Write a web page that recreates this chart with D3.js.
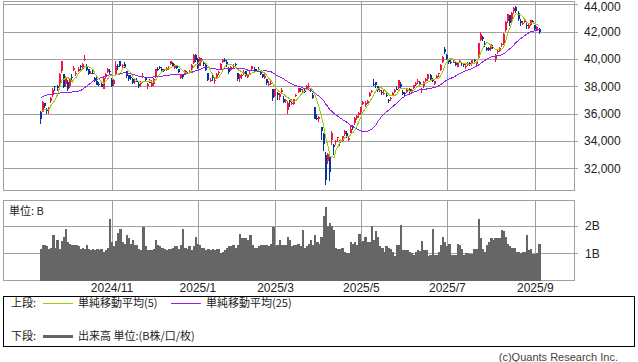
<!DOCTYPE html>
<html>
<head>
<meta charset="utf-8">
<script src="https://cdn.jsdelivr.net/npm/d3@7/dist/d3.min.js"></script>
<style>
  body { margin: 0; background: #fff; }
  svg { display: block; }
</style>
</head>
<body>
<svg id="chart" width="638" height="362"></svg>
<script>
// closes for the 24 sessions before the first drawn day (only used for the moving averages)
const preCloses = [35089, 34831, 35025, 36232, 36442, 36726, 38062, 37388, 38063, 37951, 38211, 38364,
  38110, 38288, 38371, 38362, 38647, 38700, 38686, 37047, 36657, 36391, 36215, 36159];

const opens = [36087,36120,36750,36230,36260,36900,37400,38000,38000,38150,
  39140,38900,38150,38280,38000,38700,39170,38900,39150,39450,
  39300,39960,39500,39260,38900,39000,38600,38400,38200,38200,
  37800,38650,39050,39100,38450,38200,38900,39500,39850,39500,
  39600,39100,38800,38700,38500,38300,38400,38200,38150,38700,
  38600,38000,38350,38000,38200,38650,39300,39400,39300,39200,
  39200,39300,39600,39700,39350,39500,39300,38600,38800,38900,
  39050,39100,39200,39700,40300,40000,39500,39900,39800,39600,
  39000,38400,38800,38400,38600,39000,39300,39800,39950,39800,
  39300,39200,39500,39600,39000,38600,38800,38900,39100,38700,
  38900,39300,39300,39200,39300,39100,38900,38600,38500,38100,
  38200,37800,37300,37500,37200,37600,37100,37000,36300,36900,
  36700,36700,37300,37600,37800,37600,37700,37800,38000,37800,
  37400,36500,35700,35600,35000,34500,33000,32500,32800,34100,
  33700,33900,34200,33900,34000,34500,34600,34100,34600,35100,
  35300,35700,35900,36100,36700,36600,36800,37300,37600,38200,
  38300,38000,37700,37600,37500,37400,37000,37100,37400,37600,
  37800,37900,38200,37600,37500,37600,37800,37600,37900,38100,
  38300,38300,37700,38000,38400,38500,38800,38500,38200,38600,
  38900,39200,39800,40700,40300,39900,39800,39800,39700,39400,
  39800,39700,39600,39400,39600,39700,39600,39900,39600,40100,
  41400,41600,41200,40800,40800,40700,40900,40000,40500,40600,
  41000,41100,42100,42800,43200,42700,43500,43800,43400,42800,
  42600,42700,42500,42300,42500,42800,42500,42200,42200];

const highs = [36202,36940,36780,36440,36500,37210,37860,38010,38100,38940,
  39830,38900,38730,38450,38600,38900,39500,39150,39390,39530,
  39700,40260,39600,39290,39120,39200,38700,38700,38280,38250,
  38700,38950,39370,39250,38600,38530,39880,39650,39880,39600,
  39800,39150,38850,38800,38600,38600,38580,38350,38400,38960,
  38700,38250,38500,38450,38600,39250,39400,39500,39400,39300,
  39400,39450,39870,39750,39600,39550,39300,38900,38800,39200,
  39100,39200,39600,40400,40350,40100,40150,40050,39800,39700,
  39000,38600,38800,38600,38950,39100,39700,40000,40100,39900,
  39400,39500,39600,39700,39000,38900,38900,39200,39150,38900,
  39100,39500,39400,39300,39400,39100,38900,38900,38500,38400,
  38400,37800,37800,37600,37500,37900,37300,37100,36900,37000,
  37100,37100,37450,37900,37900,37800,37900,38100,38220,37900,
  37500,36500,36000,35800,35000,34600,33200,33100,32800,34700,
  33800,34100,34300,34100,34400,34800,34700,34300,35100,35150,
  35750,35900,36100,36500,36900,36900,37000,37600,37700,38500,
  38300,38000,37900,37700,37700,37600,37100,37200,37600,37800,
  38000,38450,38300,37700,37600,37900,37900,37800,38100,38300,
  38500,38400,37900,38400,38600,38900,38900,38600,38400,38800,
  39000,39600,40200,40850,40400,40000,39900,39900,39800,39700,
  39900,39800,39700,39600,39800,39800,39900,40000,39800,41200,
  42000,41700,41300,40900,40900,41100,41000,40400,40700,40900,
  41200,41900,42800,43300,43200,43450,43800,43880,43500,42900,
  42800,42900,42600,42600,42850,42850,42500,42400,42300];

const lows = [35247,36090,36420,36000,35970,36800,37200,37660,37620,38050,
  38970,37860,37950,37650,37900,38400,39100,38750,39060,39200,
  39230,39850,39120,38850,38880,38900,38350,38060,38050,37920,
  37800,38550,38990,38800,37960,38050,38800,39200,39400,39300,
  39350,38600,38400,38450,38150,38150,38280,37900,37960,38600,
  38300,37800,38250,37950,38050,38600,39150,39250,39000,39050,
  39150,39200,39550,39400,39300,39300,38950,38500,38500,38800,
  38900,39000,39150,39650,39800,39300,39450,39800,39500,39100,
  38400,38300,38400,38200,38550,38800,39200,39700,39800,39400,
  38900,39150,39300,39400,38400,38300,38500,38800,38700,38600,
  38800,39200,39100,39100,39100,38800,38600,38500,38100,38000,
  38100,36900,37200,37000,37000,37500,36800,36800,35950,36500,
  36600,36600,37200,37500,37600,37500,37500,37700,37900,37600,
  37100,35600,35500,35400,34100,33300,30790,32300,31100,33700,
  33000,33700,33900,33600,33900,34400,34200,34000,34600,34800,
  35200,35500,35700,35900,36600,36500,36700,37200,37500,38000,
  37900,37600,37600,37400,37400,37200,36800,36900,37300,37500,
  37700,37800,37900,37400,37300,37500,37500,37500,37800,38000,
  38200,38100,37500,37900,38300,38400,38400,38300,38100,38500,
  38700,39100,39700,40400,39900,39600,39600,39700,39500,39400,
  39700,39500,39400,39300,39500,39500,39500,39700,39500,40000,
  41300,41300,40900,40600,40600,40600,40700,39800,40400,40500,
  40900,41000,42000,42600,42400,42600,43300,43400,42800,42400,
  42500,42600,42200,42200,42400,42600,42100,42100,41800];

const closes = [35619,36833,36581,36203,36380,37155,37723,37940,37870,38925,
  39829,37919,38651,37808,38552,38635,39332,38937,39277,39380,
  39605,40007,39180,38911,38981,38954,38411,38104,38143,37913,
  38605,38903,39277,39081,38053,38474,39480,39381,39500,39533,
  39376,38721,38535,38642,38220,38414,38352,38026,38283,38780,
  38442,38134,38349,38208,38513,39248,39276,39395,39091,39160,
  39367,39372,39849,39470,39457,39364,39081,38813,38701,39161,
  39036,39130,39568,40281,39894,39307,40083,39981,39605,39190,
  38474,38445,38572,38451,38902,39027,39646,39958,39931,39565,
  39016,39414,39513,39572,38520,38798,38831,39066,38787,38801,
  38963,39461,39149,39174,39270,38878,38678,38776,38238,38142,
  38256,37155,37785,37331,37418,37704,36887,37028,36793,36819,
  36790,37053,37396,37845,37751,37677,37608,38027,38027,37799,
  37120,35617,35624,35725,34736,33781,31136,33012,31714,34609,
  33586,33982,34267,33920,34377,34730,34280,34220,34868,35039,
  35705,35839,36045,36452,36830,36780,36928,37503,37644,38183,
  38128,37755,37753,37498,37529,37298,36985,37160,37531,37724,
  37722,38432,37965,37470,37446,37747,37554,37741,38088,38211,
  38421,38173,37834,38311,38536,38885,38488,38403,38354,38790,
  38942,39584,40150,40487,39986,39762,39785,39810,39587,39688,
  39821,39646,39569,39459,39678,39663,39901,39819,39774,41171,
  41826,41456,40998,40674,40654,41069,40799,40290,40549,40794,
  41059,41820,42718,43274,42649,43378,43714,43546,42888,42610,
  42633,42807,42394,42520,42829,42718,42188,42310,41938];

// volume, billions of shares
const volumes = [1.15,1.3,1.3,1.28,1.15,1.2,1.65,1.2,1.5,1.15,
  1.45,1.6,1.9,1.4,1.35,1.3,1.3,1.3,1.25,1.15,
  1.2,1.15,1.3,1.15,1.1,1.15,1.1,1.15,1.1,1.15,
  1.05,1.1,1.2,2.25,1.4,1.25,1.45,1.75,1.9,1.4,
  1.35,1.65,1.55,1.35,1.5,1.3,1.3,1.15,1.1,1.95,
  1.25,1.1,1.1,1.1,1.15,1.5,1.3,1.25,1.2,1.15,
  1.1,1.15,1.15,1.2,1.25,1.25,1.15,1.3,1.9,1.2,
  1.15,1.25,1.1,1.25,1.6,1.35,1.3,1.2,1.2,1.1,
  1.15,1.1,1.15,1.1,1.15,1.15,1.0,1.05,1.1,1.2,
  1.25,1.25,1.3,1.2,1.3,1.7,1.55,1.55,1.55,1.5,
  1.65,1.3,1.2,1.2,1.25,1.3,1.3,1.3,1.3,1.25,
  1.35,1.95,1.25,1.3,1.5,1.3,1.3,1.3,1.6,1.5,
  1.25,1.3,1.3,1.35,1.25,1.85,1.2,1.25,1.35,1.5,
  1.3,1.65,1.4,1.35,1.6,2.35,2.7,2.0,2.1,2.0,
  1.85,1.2,1.15,1.15,1.2,1.05,1.0,1.0,1.4,1.35,
  1.4,1.3,1.7,1.4,1.45,1.6,1.4,1.4,2.0,1.5,
  1.8,1.6,1.25,1.2,1.05,1.25,1.2,1.15,1.05,0.9,
  1.3,1.3,2.05,1.1,1.1,1.1,1.05,1.0,0.95,1.05,
  1.1,1.07,1.45,1.1,1.1,0.9,0.95,1.9,0.95,0.95,
  1.05,1.3,1.6,1.4,1.25,1.35,0.95,0.95,0.95,1.35,
  1.3,1.15,0.95,1.0,1.0,0.98,0.98,1.15,1.15,2.25,
  1.55,1.15,1.05,1.3,1.4,1.55,1.5,1.55,1.55,1.55,
  1.85,1.8,1.6,1.35,1.25,1.2,1.2,1.05,1.05,1.0,
  1.05,1.05,1.65,1.1,1.15,0.98,0.98,1.0,1.33];

// market holidays (TSE closed on these weekdays)
const holidays = ["2024-09-16", "2024-09-23", "2024-10-14", "2024-11-04", "2024-12-31",
  "2025-01-01", "2025-01-02", "2025-01-03", "2025-01-13", "2025-02-11", "2025-02-24",
  "2025-03-20", "2025-04-29", "2025-05-05", "2025-05-06", "2025-07-21", "2025-08-11"];
const firstDay = "2024-09-11";

const monthTicks = ["2024-11", "2025-01", "2025-03", "2025-05", "2025-07", "2025-09"];
const monthLabels = ["2024/11", "2025/1", "2025/3", "2025/5", "2025/7", "2025/9"];
const priceTicks = [32000, 34000, 36000, 38000, 40000, 42000, 44000];
const volumeTicks = [1, 2];
const volumeLabels = ["1B", "2B"];

function drawChart(svg) {
  const left = 3.5, right = 574.5;
  const priceTop = 1.5, priceBottom = 190.5;
  const volTop = 200.5, volBottom = 280.5;
  const gridColor = "#a0a0a0";
  const upColor = "#f5123d";
  const downColor = "#06339b";
  const labelFont = "'Liberation Sans', Arial, sans-serif";
  const jpFont = "'Noto Sans CJK JP', sans-serif";

  // trading days
  const fmt = d3.timeFormat("%Y-%m-%d");
  const dates = [];
  let d = d3.timeParse("%Y-%m-%d")(firstDay);
  while (dates.length < closes.length) {
    const wd = d.getDay();
    if (wd !== 0 && wd !== 6 && !holidays.includes(fmt(d))) dates.push(new Date(d));
    d = d3.timeDay.offset(d, 1);
  }

  const allCloses = preCloses.concat(closes);
  const maOf = n => closes.map((c, i) => {
    const k = i + preCloses.length;
    return d3.mean(allCloses.slice(k - n + 1, k + 1));
  });
  const ma5 = maOf(5);
  const ma25 = maOf(25);

  const x = d3.scaleLinear().domain([-17.8, 254.7]).range([left, right]);
  const y = d3.scaleLinear().domain([30376, 44205]).range([priceBottom, priceTop]);
  const yv = d3.scaleLinear().domain([0, 2.93]).range([volBottom, volTop]);
  const px = v => Math.round(v) + 0.5;

  const tickIdx = monthTicks.map(m => dates.findIndex(dt => fmt(dt).slice(0, 7) === m));

  const grid = svg.append("g")
    .attr("stroke", gridColor)
    .attr("stroke-width", 1)
    .attr("shape-rendering", "crispEdges");

  grid.selectAll(".hp")
    .data(priceTicks)
    .enter()
    .append("line")
    .attr("x1", left).attr("x2", right + 3)
    .attr("y1", v => px(y(v))).attr("y2", v => px(y(v)));

  grid.selectAll(".hv")
    .data(volumeTicks)
    .enter()
    .append("line")
    .attr("x1", left).attr("x2", right + 3)
    .attr("y1", v => px(yv(v))).attr("y2", v => px(yv(v)));

  tickIdx.forEach(i => {
    grid.append("line")
      .attr("x1", px(x(i))).attr("x2", px(x(i)))
      .attr("y1", priceTop).attr("y2", priceBottom);
    grid.append("line")
      .attr("x1", px(x(i))).attr("x2", px(x(i)))
      .attr("y1", volTop).attr("y2", volBottom);
  });

  grid.append("rect")
    .attr("x", left).attr("y", priceTop)
    .attr("width", right - left).attr("height", priceBottom - priceTop)
    .attr("fill", "none");
  grid.append("rect")
    .attr("x", left).attr("y", volTop)
    .attr("width", right - left).attr("height", volBottom - volTop)
    .attr("fill", "none");

  // volume bars
  svg.append("g")
    .attr("fill", "#666666")
    .attr("shape-rendering", "crispEdges")
    .selectAll("rect")
    .data(volumes)
    .enter()
    .append("rect")
    .attr("x", (v, i) => x(i) - 1.1)
    .attr("width", 2.3)
    .attr("y", v => yv(v))
    .attr("height", v => volBottom - yv(v));

  // candles
  const candles = svg.append("g").attr("shape-rendering", "crispEdges");
  closes.forEach((c, i) => {
    const o = opens[i];
    const col = c >= o ? upColor : downColor;
    const cx = Math.round(x(i));
    candles.append("rect")
      .attr("x", cx - 1).attr("width", 1)
      .attr("y", y(highs[i]))
      .attr("height", Math.max(1, y(lows[i]) - y(highs[i])))
      .attr("fill", col);
    candles.append("rect")
      .attr("x", cx - 1).attr("width", 2)
      .attr("y", y(Math.max(o, c)))
      .attr("height", Math.max(1, Math.abs(y(o) - y(c))))
      .attr("fill", col);
  });

  const line = d3.line().x((v, i) => x(i)).y(v => y(v));

  svg.append("path")
    .datum(ma25)
    .attr("d", line)
    .attr("fill", "none")
    .attr("stroke", "#9a1cf5")
    .attr("stroke-width", 1)
    .attr("shape-rendering", "crispEdges");

  svg.append("path")
    .datum(ma5)
    .attr("d", line)
    .attr("fill", "none")
    .attr("stroke", "#9ccc06")
    .attr("stroke-width", 1)
    .attr("shape-rendering", "crispEdges");

  // axis labels (top one kept inside the page)
  svg.append("g")
    .selectAll("text")
    .data(priceTicks)
    .enter()
    .append("text")
    .attr("x", 584)
    .attr("y", v => Math.max(y(v), 7))
    .attr("dy", "0.36em")
    .attr("font-family", labelFont)
    .attr("font-size", "12px")
    .attr("fill", "#222")
    .text(d3.format(","));

  svg.append("g")
    .selectAll("text")
    .data(volumeTicks)
    .enter()
    .append("text")
    .attr("x", 585)
    .attr("y", v => yv(v))
    .attr("dy", "0.36em")
    .attr("font-family", labelFont)
    .attr("font-size", "12px")
    .attr("fill", "#222")
    .text((v, i) => volumeLabels[i]);

  svg.append("g")
    .selectAll("text")
    .data(tickIdx)
    .enter()
    .append("text")
    .attr("x", i => x(i))
    .attr("y", 292)
    .attr("text-anchor", "middle")
    .attr("font-family", labelFont)
    .attr("font-size", "12px")
    .attr("fill", "#222")
    .text((v, k) => monthLabels[k]);

  svg.append("text")
    .attr("x", 9).attr("y", 215)
    .attr("font-family", jpFont)
    .attr("font-size", "11px")
    .attr("fill", "#222")
    .text("単位: B");

  // legend
  svg.append("rect")
    .attr("x", 3.5).attr("y", 296.5)
    .attr("width", 631).attr("height", 50)
    .attr("fill", "none")
    .attr("stroke", "#000")
    .attr("shape-rendering", "crispEdges");

  const legendRows = [
    { label: "上段:", y: 303, items: [
      { x: 43, color: "#9ccc06", w: 1, text: "単純移動平均(5)" },
      { x: 171, color: "#9a1cf5", w: 1, text: "単純移動平均(25)" }
    ] },
    { label: "下段:", y: 336, items: [
      { x: 43, color: "#666666", w: 3, text: "出来高 単位:(B株/口/枚)" }
    ] }
  ];

  legendRows.forEach(row => {
    svg.append("text")
      .attr("x", 11).attr("y", row.y)
      .attr("dy", "0.36em")
      .attr("font-family", jpFont)
      .attr("font-size", "11px")
      .attr("fill", "#222")
      .text(row.label);
    row.items.forEach(it => {
      svg.append("line")
        .attr("x1", it.x).attr("x2", it.x + 30)
        .attr("y1", row.y + 0.5).attr("y2", row.y + 0.5)
        .attr("stroke", it.color)
        .attr("stroke-width", it.w)
        .attr("shape-rendering", "crispEdges");
      svg.append("text")
        .attr("x", it.x + 35).attr("y", row.y)
        .attr("dy", "0.36em")
        .attr("font-family", jpFont)
        .attr("font-size", "11px")
        .attr("fill", "#222")
        .text(it.text);
    });
  });

  svg.append("text")
    .attr("x", 618).attr("y", 357)
    .attr("dy", "0.36em")
    .attr("text-anchor", "end")
    .attr("font-family", labelFont)
    .attr("font-size", "11px")
    .attr("fill", "#444")
    .text("(c)Quants Research Inc.");
}

drawChart(d3.select("#chart"));
</script>
</body>
</html>
